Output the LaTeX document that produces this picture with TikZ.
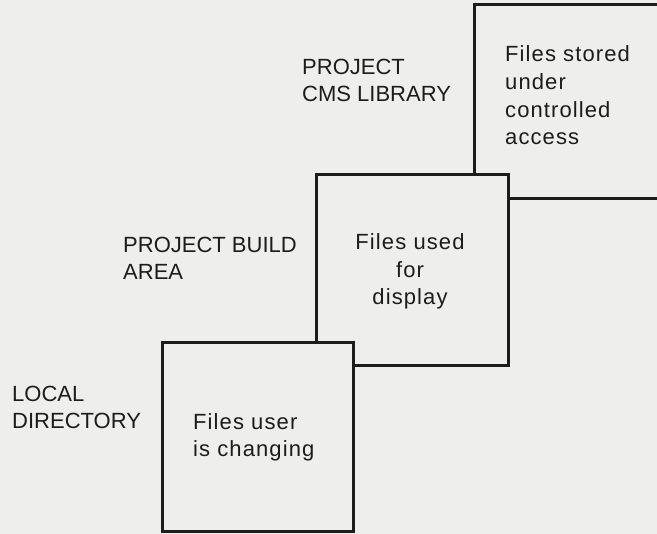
\documentclass[tikz,border=0pt]{standalone}
\usepackage{fontspec}
\setmainfont{Liberation Sans}
\newfontfamily\widefont[LetterSpace=5]{Liberation Sans}
\definecolor{paper}{RGB}{238,238,236}
\definecolor{ink}{RGB}{28,28,28}
\begin{document}
\begin{tikzpicture}[x=1pt,y=1pt,
  area/.style={draw=ink, line width=3pt, fill=paper,
    minimum width=192pt, minimum height=191pt, inner sep=0pt},
  % multi-line texts: the base anchor sits on the last line
  areaname/.style={anchor=base west, align=left, inner sep=0pt, text=ink,
    font=\fontsize{22}{27.7}\selectfont},
  content/.style={areaname, font=\fontsize{22}{27.7}\selectfont\widefont},
]
% page
\fill[paper] (0,0) rectangle (657,534);
\useasboundingbox (0,0) rectangle (657,534);
\clip (0,0) rectangle (657,534);

% storage areas, stacked from the library down to the local directory
\node[area, minimum height=194pt] (lib) at (570,432) {};
\node[area] (build) at (412,263.5) {};
\node[area, minimum width=191pt, minimum height=189pt] (local) at (257.5,96.5) {};

% area names
\node[areaname] (libname) at (302,432) {PROJECT\\CMS LIBRARY};
\node[areaname] (buildname) at (123,254) {PROJECT BUILD\\AREA};
\node[areaname] (localname) at (12,105) {LOCAL\\DIRECTORY};

% what each area holds
\node[content] (libtext) at (505,389) {Files stored\\under\\controlled\\access};
\node[content, align=center, anchor=base] (buildtext) at (410,229) {Files used\\for\\display};
\node[content] (localtext) at (193,77) {Files user\\is changing};
\end{tikzpicture}
\end{document}
